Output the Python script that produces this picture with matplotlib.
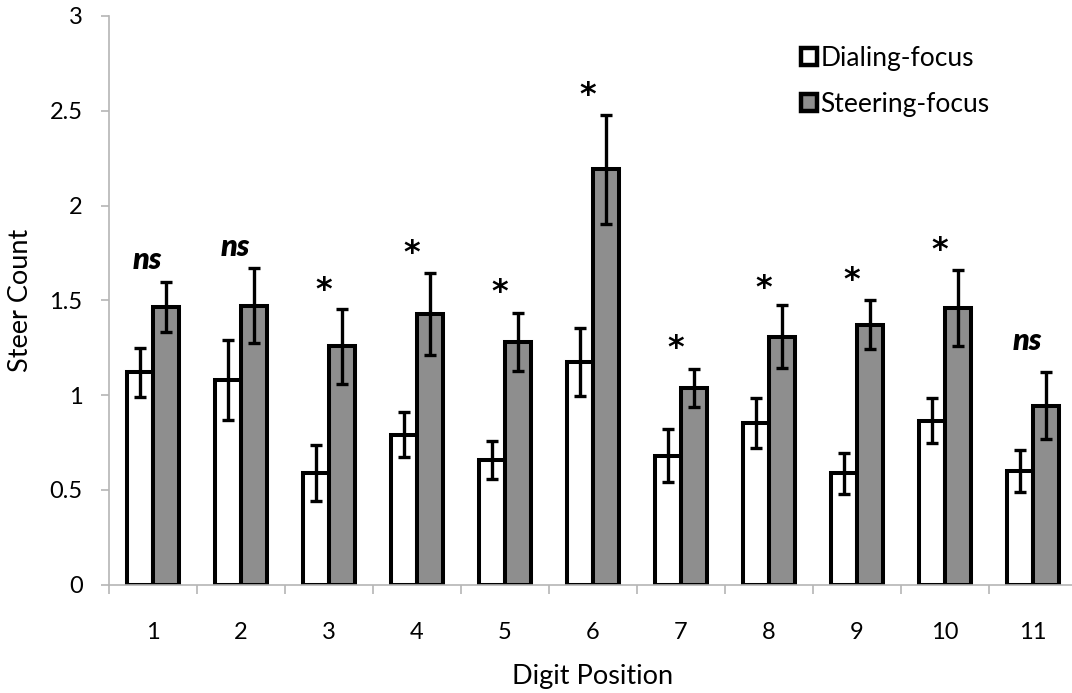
import matplotlib
matplotlib.use("Agg")
import matplotlib.pyplot as plt
from matplotlib.patches import Patch
import numpy as np

plt.rcParams['font.family'] = ['Lato', 'DejaVu Sans']

categories = ['1', '2', '3', '4', '5', '6', '7', '8', '9', '10', '11']
dialing = [1.12, 1.08, 0.59, 0.79, 0.655, 1.175, 0.68, 0.85, 0.587, 0.865, 0.60]
dialing_err = [0.13, 0.21, 0.147, 0.118, 0.10, 0.18, 0.14, 0.132, 0.108, 0.12, 0.112]
steering = [1.464, 1.472, 1.256, 1.427, 1.28, 2.19, 1.036, 1.308, 1.371, 1.459, 0.944]
steering_err = [0.133, 0.20, 0.20, 0.218, 0.155, 0.286, 0.10, 0.165, 0.13, 0.198, 0.176]
sig_labels = ['ns', 'ns', '*', '*', '*', '*', '*', '*', '*', '*', 'ns']
sig_label_y = [1.708, 1.777, 1.608, 1.80, 1.597, 2.636, 1.297, 1.618, 1.66, 1.815, 1.276]
yticks = [0, 0.5, 1, 1.5, 2, 2.5, 3]
ytick_labels = ['0', '0.5', '1', '1.5', '2', '2.5', '3']

W, H = 1072, 693
fig = plt.figure(figsize=(W / 100, H / 100), dpi=100)
ax = fig.add_axes([109 / W, (H - 584.5) / H, 968 / W, 568.5 / H])

x = np.arange(1, len(categories) + 1)
bw = 0.29
gray = '#8e8e8e'
err_kw = dict(elinewidth=2.4, capsize=4.3, capthick=2.4, ecolor='black')

ax.bar(x - bw / 2, dialing, bw, color='white', edgecolor='black', linewidth=2.9,
       yerr=dialing_err, error_kw=err_kw, label='Dialing-focus', zorder=2)
ax.bar(x + bw / 2, steering, bw, color=gray, edgecolor='black', linewidth=2.9,
       yerr=steering_err, error_kw=err_kw, label='Steering-focus', zorder=2)

for xi, lab, ly in zip(x, sig_labels, sig_label_y):
    if lab == 'ns':
        ax.annotate(lab, (xi - 0.07, ly), xytext=(0, -5.6), textcoords='offset points',
                    ha='center', va='baseline', fontsize=22, fontweight='heavy',
                    fontstyle='italic', color='black')
    else:
        ax.annotate(lab, (xi - 0.06, ly), xytext=(0, -13.5), textcoords='offset points',
                    ha='center', va='baseline', fontsize=23, family='DejaVu Sans',
                    fontweight='bold', color='black')

ax.set_xlim(0.5, 11.5)
ax.set_ylim(0, 3)
ax.set_yticks(yticks)
ax.set_yticklabels(ytick_labels)
ax.set_xticks(x)
ax.set_xticklabels(categories)
ax.set_xticks(np.arange(0.5, 12, 1), minor=True)

for s in ['top', 'right']:
    ax.spines[s].set_visible(False)
for s in ['left', 'bottom']:
    ax.spines[s].set_color('#b5b5b5')
    ax.spines[s].set_linewidth(1.2)

ax.tick_params(axis='y', which='major', direction='out', length=6, width=1.2,
               color='#b5b5b5', pad=13, labelsize=17)
ax.tick_params(axis='x', which='major', length=0, pad=27, labelsize=17)
ax.tick_params(axis='x', which='minor', direction='out', length=6.5, width=1.2,
               color='#b5b5b5')

ax.set_ylabel('Steer Count', fontsize=19.5)
ax.yaxis.set_label_coords((33 - 109) / 968, 0.5)
ax.set_xlabel('Digit Position', fontsize=19.5)
ax.xaxis.set_label_coords(0.5, (584.5 - 664) / 568.5)

handles = [Patch(facecolor='white', edgecolor='black', linewidth=3.2),
           Patch(facecolor=gray, edgecolor='black', linewidth=3.2)]
leg = ax.legend(handles, ['Dialing-focus', 'Steering-focus'], loc='upper left',
                bbox_to_anchor=(801 / W, 1 - 46 / H), bbox_transform=fig.transFigure,
                frameon=False, fontsize=19, handlelength=0.59, handleheight=0.59,
                handletextpad=0.15, labelspacing=0.78, borderaxespad=0, borderpad=0)

fig.savefig('out.png', dpi=100)
